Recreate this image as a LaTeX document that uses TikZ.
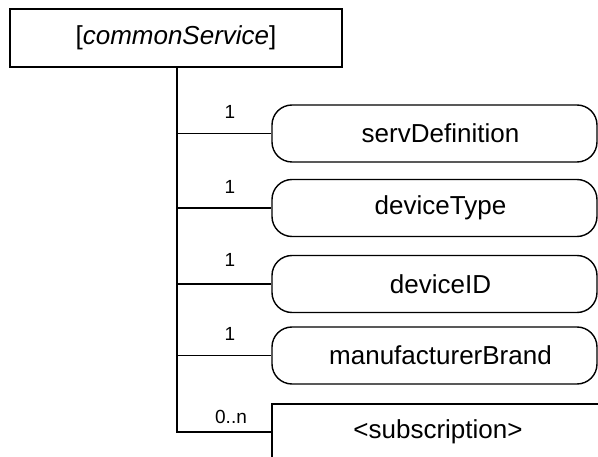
\documentclass[tikz,border=0pt]{standalone}
\usepackage{fontspec}
\setmainfont{Liberation Sans}
\begin{document}
\begin{tikzpicture}[x=1pt,y=-1pt,
  line width=1.4pt,
  sqbox/.style={draw,rectangle,inner sep=0pt,font=\fontsize{26}{30}\selectfont},
  rbox/.style={draw,rectangle,rounded corners=20pt,inner sep=0pt,minimum width=325pt,minimum height=57pt,font=\fontsize{26}{30}\selectfont},
  mult/.style={inner sep=0pt,font=\fontsize{19}{22}\selectfont},
  conn/.style={draw,line width=1.4pt}]
\path[use as bounding box,clip] (0,0) rectangle (598,457);
\node[sqbox,minimum width=332pt,minimum height=58pt] (cs) at (176,38) {[\textit{commonService}]};
\node[rbox] (sd) at (434.5,133.5) {\hspace*{12pt}servDefinition};
\node[rbox] (dt) at (434.5,208) {\hspace*{12pt}deviceType};
\node[rbox] (di) at (434.5,284) {\hspace*{12pt}deviceID};
\node[rbox] (mb) at (434.5,355.5) {\hspace*{12pt}manufacturerBrand};
\node[sqbox,minimum width=338pt,minimum height=56pt] (sub) at (441,432) {\hspace*{-6pt}<subscription>};
\coordinate (j1) at ([xshift=1pt]cs.south |- sd.west);
\coordinate (j2) at ([xshift=1pt]cs.south |- dt.west);
\coordinate (j3) at ([xshift=1pt]cs.south |- di.west);
\coordinate (j4) at ([xshift=1pt]cs.south |- mb.west);
\coordinate (top) at ([xshift=1pt]cs.south);
\draw[conn] (top) |- (sub.west);
\draw[conn] (j1) -- (sd.west);
\draw[conn] (j2) -- (dt.west);
\draw[conn] (j3) -- (di.west);
\draw[conn] (j4) -- (mb.west);
\node[mult] (m1) at (230,112) {1};
\node[mult] (m2) at (230,186.5) {1};
\node[mult] (m3) at (230,260) {1};
\node[mult] (m4) at (230,333.5) {1};
\node[mult] (m5) at (231,417) {0..n};
\end{tikzpicture}
\end{document}
